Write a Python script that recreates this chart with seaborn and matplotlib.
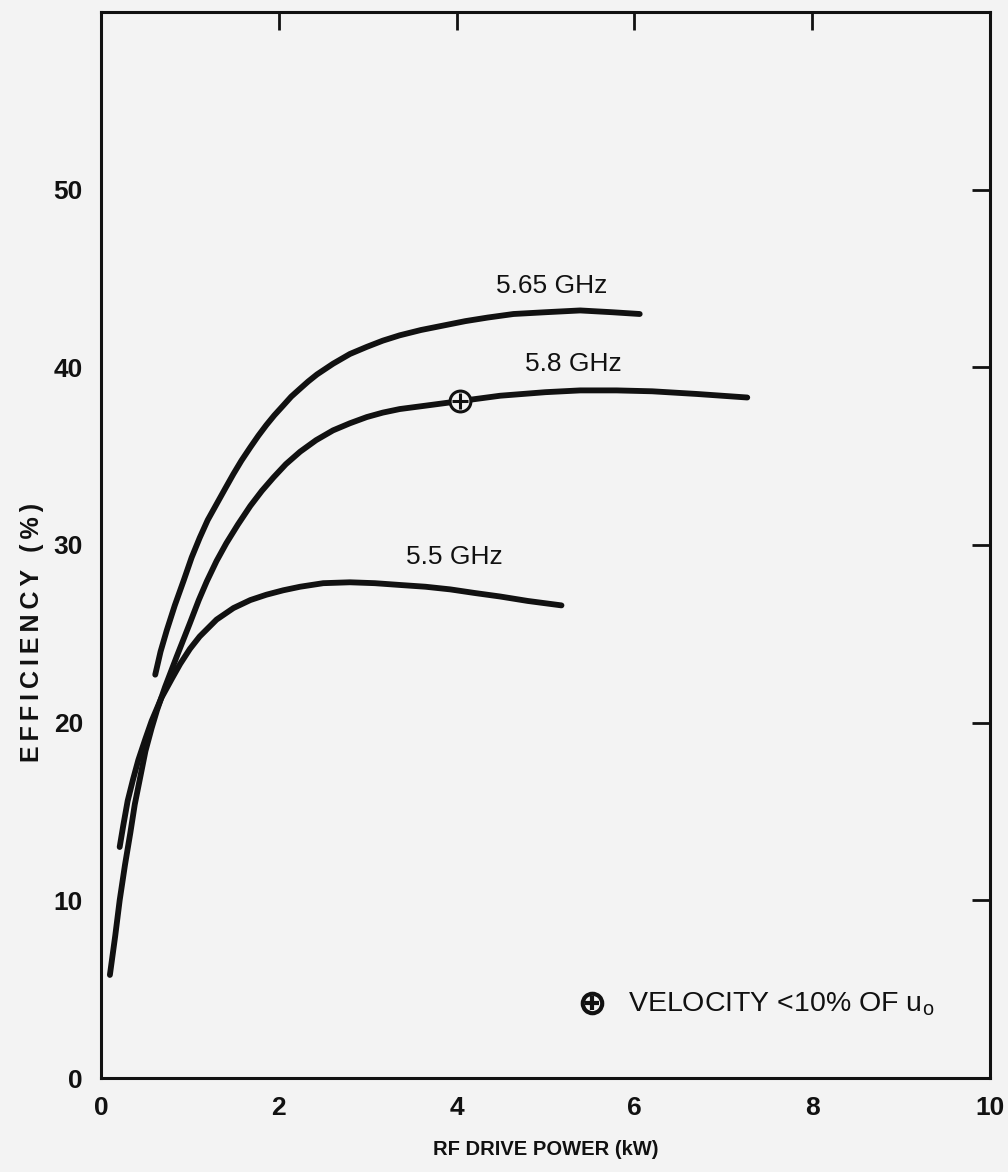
import pandas as pd
import seaborn as sns
import matplotlib.pyplot as plt

# values (RF drive power in kW, efficiency in %)
power_565 = [0.61, 0.67, 0.74, 0.83, 0.93, 1.02, 1.11, 1.20, 1.30, 1.40, 1.49, 1.58,
             1.68, 1.77, 1.86, 1.95, 2.05, 2.14, 2.24, 2.33, 2.43, 2.61, 2.80, 2.99,
             3.17, 3.36, 3.60, 3.85, 4.10, 4.35, 4.64, 5.00, 5.39, 5.75, 6.06]
eff_565 = [22.7, 24.0, 25.2, 26.6, 28.0, 29.3, 30.4, 31.4, 32.3, 33.2, 34.0, 34.75,
           35.5, 36.15, 36.75, 37.3, 37.85, 38.35, 38.8, 39.2, 39.6, 40.2, 40.75, 41.15,
           41.5, 41.8, 42.1, 42.35, 42.6, 42.8, 43.0, 43.1, 43.2, 43.1, 43.0]

power_58 = [0.10, 0.16, 0.21, 0.27, 0.33, 0.38, 0.44, 0.50, 0.57, 0.63, 0.72, 0.85,
            1.00, 1.10, 1.19, 1.30, 1.41, 1.54, 1.68, 1.81, 1.94, 2.08, 2.24, 2.42,
            2.61, 2.80, 2.99, 3.17, 3.36, 3.74, 4.04, 4.49, 5.00, 5.39, 5.80, 6.20,
            6.70, 7.27]
eff_58 = [5.8, 8.0, 10.0, 12.0, 13.8, 15.4, 16.9, 18.4, 19.7, 20.7, 22.0, 23.7,
          25.6, 26.9, 27.95, 29.1, 30.1, 31.15, 32.2, 33.05, 33.8, 34.55, 35.25, 35.9,
          36.45, 36.85, 37.2, 37.45, 37.65, 37.9, 38.1, 38.4, 38.6, 38.7, 38.7, 38.65,
          38.5, 38.3]

power_55 = [0.21, 0.25, 0.30, 0.36, 0.42, 0.50, 0.57, 0.68, 0.80, 0.89, 1.00, 1.11,
            1.30, 1.49, 1.68, 1.86, 2.05, 2.24, 2.50, 2.80, 3.08, 3.36, 3.65, 3.93,
            4.20, 4.49, 4.80, 5.18]
eff_55 = [13.0, 14.2, 15.6, 16.8, 17.9, 19.1, 20.1, 21.4, 22.5, 23.3, 24.15, 24.85,
          25.8, 26.45, 26.9, 27.2, 27.45, 27.65, 27.85, 27.9, 27.85, 27.75, 27.65, 27.5,
          27.3, 27.1, 26.85, 26.6]

freq_labels = ["5.65 GHz", "5.8 GHz", "5.5 GHz"]
label_x = [5.07, 5.31, 3.97]
label_y = [44.6, 40.2, 29.3]

# point where velocity < 10% of u0
flag_power = [4.04]
flag_eff = [38.1]

x_ticks = [0, 2, 4, 6, 8, 10]
y_ticks = [0, 10, 20, 30, 40, 50]

ink = "#111111"
paper = "#f3f3f3"
narrow = ["Liberation Sans Narrow", "Liberation Sans", "DejaVu Sans"]

sns.set_theme(style="white")
plt.rcParams["font.family"] = ["Liberation Sans", "DejaVu Sans"]
plt.rcParams["mathtext.fontset"] = "custom"
plt.rcParams["mathtext.rm"] = "Liberation Sans"

df = pd.concat([
    pd.DataFrame({"power": power_565, "eff": eff_565, "freq": freq_labels[0]}),
    pd.DataFrame({"power": power_58, "eff": eff_58, "freq": freq_labels[1]}),
    pd.DataFrame({"power": power_55, "eff": eff_55, "freq": freq_labels[2]}),
], ignore_index=True)

fig = plt.figure(figsize=(10.08, 11.72), dpi=100, facecolor=paper)
ax = fig.add_axes([0.1002, 0.0802, 0.8819, 0.9096], facecolor=paper)

sns.lineplot(data=df, x="power", y="eff", hue="freq", estimator=None, sort=False,
             palette={f: ink for f in freq_labels}, linewidth=4.2,
             solid_capstyle="round", solid_joinstyle="round", legend=False, ax=ax)

for lab, lx, ly in zip(freq_labels, label_x, label_y):
    ax.text(lx, ly, lab, ha="center", va="center", fontsize=19, color=ink)

# circled-plus marker on the 5.8 GHz curve and in the key
ax.plot(flag_power, flag_eff, ls="none", marker="o", ms=15, mfc=paper, mec=ink, mew=2.2)
ax.plot(flag_power, flag_eff, ls="none", marker="+", ms=11, mec=ink, mew=2.2)
ax.plot([5.52], [4.2], ls="none", marker="o", ms=14, mfc=paper, mec=ink, mew=3)
ax.plot([5.52], [4.2], ls="none", marker="+", ms=10, mec=ink, mew=3)
ax.text(5.93, 3.75, "VELOCITY <10% OF u$_{\\rm o}$", ha="left", va="baseline",
        fontsize=20.5, color=ink)

ax.set_xlim(0, 10)
ax.set_ylim(0, 60)
ax.set_xticks(x_ticks)
ax.set_yticks(y_ticks)
ax.set_xticklabels([str(v) for v in x_ticks])
ax.set_yticklabels([str(v) for v in y_ticks])
ax.tick_params(axis="both", direction="in", top=True, right=True, length=13,
               width=2, color=ink, labelsize=19, pad=13)
for lab in ax.get_xticklabels() + ax.get_yticklabels():
    lab.set_family(narrow)
    lab.set_fontweight("bold")
    lab.set_color(ink)

for side in ["left", "right", "top", "bottom"]:
    ax.spines[side].set_visible(True)
    ax.spines[side].set_linewidth(2.2)
    ax.spines[side].set_color(ink)

ax.set_xlabel("RF DRIVE POWER (kW)", fontsize=14.5, fontweight="bold", color=ink,
              family=narrow)
ax.set_ylabel("\u2009".join("EFFICIENCY (%)"), fontsize=18, fontweight="bold",
              color=ink)
ax.xaxis.set_label_coords(0.5, -0.058)
ax.yaxis.set_label_coords(-0.064, 0.418)

fig.savefig("out.png", dpi=100, facecolor=paper)
